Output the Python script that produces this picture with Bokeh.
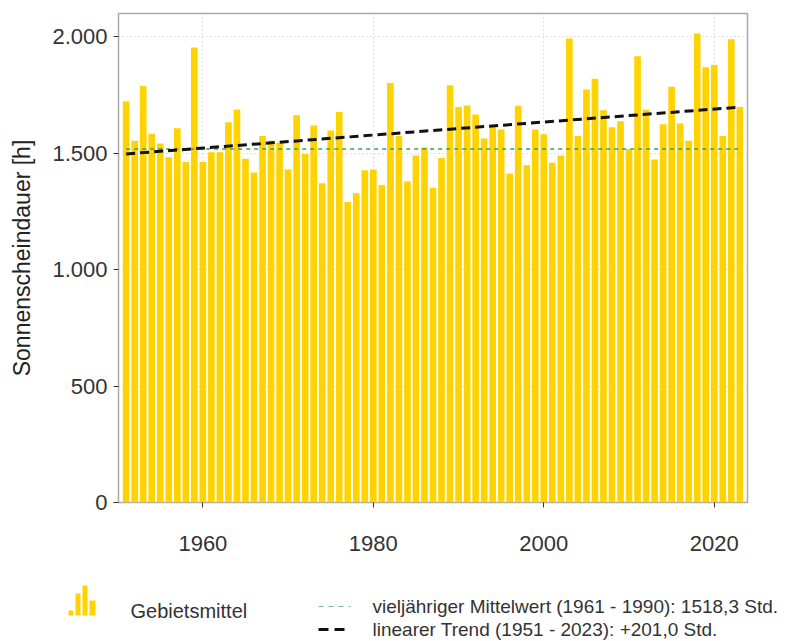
from bokeh.plotting import figure
from bokeh.models import ColumnDataSource, FixedTicker, Range1d
from bokeh.embed import file_html
from bokeh.resources import INLINE
from bokeh.core.properties import value

# ---------------- data ----------------
years = list(range(1951, 2024))
sunshine = [
    1722, 1553, 1789, 1584, 1542, 1483, 1607, 1462, 1954, 1462,   # 1951-1960
    1504, 1504, 1633, 1687, 1476, 1417, 1574, 1553, 1546, 1430,   # 1961-1970
    1663, 1497, 1619, 1371, 1598, 1677, 1290, 1328, 1427, 1430,   # 1971-1980
    1363, 1802, 1574, 1378, 1490, 1525, 1352, 1479, 1792, 1698,   # 1981-1990
    1705, 1666, 1563, 1619, 1602, 1412, 1704, 1448, 1602, 1581,   # 1991-2000
    1459, 1490, 1993, 1574, 1774, 1820, 1684, 1612, 1637, 1518,   # 2001-2010
    1916, 1687, 1473, 1624, 1785, 1628, 1553, 2014, 1869, 1879,   # 2011-2020
    1574, 1989, 1698,                                             # 2021-2023
]
mean_years = [1951, 2023]
mean_value = 1518.3
trend_years = [1951, 2023]
trend_values = [1497.0, 1698.0]

x_ticks = [1960, 1980, 2000, 2020]
y_ticks = [0, 500, 1000, 1500, 2000]
y_tick_labels = ["0", "500", "1.000", "1.500", "2.000"]

y_title = "Sonnenscheindauer [h]"
legend_bar_text = "Gebietsmittel"
legend_mean_text = "vieljähriger Mittelwert (1961 - 1990): 1518,3 Std."
legend_trend_text = "linearer Trend (1951 - 2023): +201,0 Std."

# ---------------- style ----------------
FONT = "Liberation Sans"
BAR_COLOR = "#FFD300"
MEAN_COLOR = "#3f9f5f"
TREND_COLOR = "#111111"
TXT = "#333333"

src = ColumnDataSource(dict(year=years, value=sunshine))

p = figure(width=794, height=568,
           x_range=Range1d(1950.1, 2023.9), y_range=Range1d(0, 2100),
           output_backend="svg", toolbar_location=None,
           min_border_left=118, min_border_right=47,
           min_border_top=13, min_border_bottom=66)
p.background_fill_color = "white"
p.border_fill_color = "white"
p.outline_line_color = "#aaaaaa"
p.outline_line_width = 1.5

p.vbar(x="year", top="value", width=0.78, bottom=0, source=src,
       fill_color=BAR_COLOR, line_color=None)
p.line(x=mean_years, y=[mean_value, mean_value], line_color=MEAN_COLOR,
       line_width=1.5, line_dash="4 4")
p.line(x=trend_years, y=trend_values, line_color=TREND_COLOR,
       line_width=3, line_dash="9 5")

p.xaxis.ticker = FixedTicker(ticks=x_ticks)
p.yaxis.ticker = FixedTicker(ticks=y_ticks)
p.yaxis.major_label_overrides = {t: l for t, l in zip(y_ticks, y_tick_labels)}

for ax in (p.xaxis[0], p.yaxis[0]):
    ax.axis_line_color = None
    ax.major_tick_line_color = "#333333"
    ax.major_tick_out = 5
    ax.major_tick_in = 0
    ax.minor_tick_line_color = None
    ax.major_label_text_font = FONT
    ax.major_label_text_font_size = "22px"
    ax.major_label_text_color = TXT

p.xaxis.major_label_standoff = 28
p.yaxis.major_label_standoff = 6
p.yaxis.axis_label = y_title
p.yaxis.axis_label_text_font = FONT
p.yaxis.axis_label_text_font_size = "23px"
p.yaxis.axis_label_text_font_style = "normal"
p.yaxis.axis_label_text_color = "#222222"
p.yaxis.axis_label_standoff = 14

for g in (p.xgrid[0], p.ygrid[0]):
    g.grid_line_color = "#c4c4c4"
    g.grid_line_dash = "1 3"
    g.grid_line_width = 1

# ---------------- legend (separate strip, pixel-like coordinates) ----------------
lg = figure(width=794, height=73, x_range=Range1d(0, 794), y_range=Range1d(0, 73),
            output_backend="svg", toolbar_location=None,
            x_axis_location=None, y_axis_location=None,
            min_border=0, min_border_left=0, min_border_right=0,
            min_border_top=0, min_border_bottom=0)
lg.grid.visible = False
lg.outline_line_color = None
lg.background_fill_color = "white"
lg.border_fill_color = "white"

# bar icon
lg.quad(left=[68, 75, 82, 89], right=[73, 80, 87, 95],
        bottom=[26, 26, 26, 26], top=[31, 48, 56, 41],
        fill_color=BAR_COLOR, line_color=None)
lg.text(x=[130], y=[31], text=[legend_bar_text], text_font=value(FONT),
        text_font_size="20px", text_baseline="middle", text_color=TXT)

lg.line(x=[318, 350], y=[35, 35], line_color=MEAN_COLOR, line_width=1,
        line_dash="5 5", line_alpha=0.7)
lg.line(x=[318, 350], y=[12, 12], line_color=TREND_COLOR, line_width=3,
        line_dash="10 6")
lg.text(x=[372, 372], y=[35, 12], text=[legend_mean_text, legend_trend_text],
        text_font=value(FONT), text_font_size="19px", text_baseline="middle",
        text_color=TXT)

open("out.html", "w").write(file_html([p, lg], INLINE))
